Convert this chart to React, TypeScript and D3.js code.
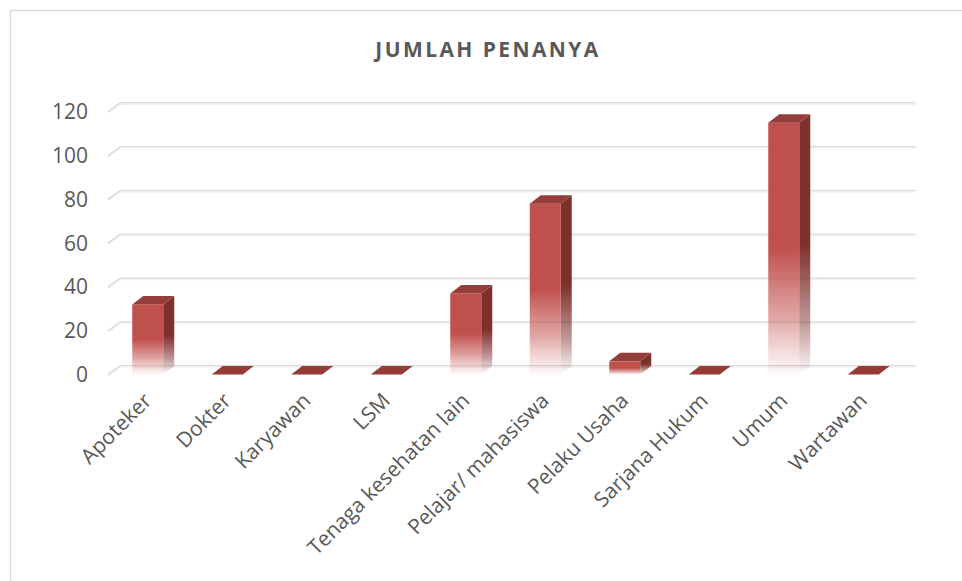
import React from "react";
import * as d3 from "d3";

const title = "JUMLAH PENANYA";
const categories = [
  "Apoteker",
  "Dokter",
  "Karyawan",
  "LSM",
  "Tenaga kesehatan lain",
  "Pelajar/ mahasiswa",
  "Pelaku Usaha",
  "Sarjana Hukum",
  "Umum",
  "Wartawan",
];
const values = [32, 0, 0, 0, 37, 78, 6, 0, 115, 0];
const yTicks = [0, 20, 40, 60, 80, 100, 120];

const W = 962;
const H = 581;
const FONT = "'Open Sans', 'Noto Sans', sans-serif";
const TEXT = "#595959";

export default function App() {
  const x = d3.scaleBand<string>().domain(categories).range([108, 903]).padding(0);
  const y = d3.scaleLinear().domain([0, 120]).range([374.5, 111.7]);
  const gdx = 12.5;
  const gdy = -9;
  const bdx = 11;
  const bdy = -8.5;
  const barW = 31;

  return (
    <svg
      width={W}
      height={H}
      style={{ position: "absolute", left: 0, top: 0, background: "#fff" }}
    >
      <defs>
        <linearGradient id="frontG" x1="0" y1="0" x2="0" y2="1">
          <stop offset="0" stopColor="#C0504D" stopOpacity={1} />
          <stop offset="0.5" stopColor="#C0504D" stopOpacity={1} />
          <stop offset="0.78" stopColor="#C8605D" stopOpacity={0.55} />
          <stop offset="1" stopColor="#D88683" stopOpacity={0.05} />
        </linearGradient>
        <linearGradient id="sideG" x1="0" y1="0" x2="0" y2="1">
          <stop offset="0" stopColor="#7E302D" stopOpacity={1} />
          <stop offset="0.5" stopColor="#7E302D" stopOpacity={1} />
          <stop offset="0.8" stopColor="#7E302D" stopOpacity={0.5} />
          <stop offset="1" stopColor="#7E302D" stopOpacity={0.02} />
        </linearGradient>
      </defs>

      <rect x={10.5} y={10.5} width={W + 20} height={H + 20} fill="#fff" stroke="#d9d9d9" strokeWidth={1.5} />

      <text
        x={488}
        y={57}
        textAnchor="middle"
        fontFamily={FONT}
        fontWeight={700}
        fontSize={21}
        letterSpacing={2.4}
        fill={TEXT}
      >
        {title}
      </text>

      {/* gridlines */}
      {yTicks.map((t) => {
        const yf = y(t);
        const yb = yf + gdy;
        return (
          <g key={t}>
            <line x1={108 + gdx} x2={903 + gdx} y1={yb + 1} y2={yb + 1} stroke="#f0f0f0" strokeWidth={2.5} />
            <line x1={108 + gdx} x2={903 + gdx} y1={yb} y2={yb} stroke="#d9d9d9" strokeWidth={1} />
            <line x1={108} y1={yf + 0.5} x2={108 + gdx} y2={yb + 0.5} stroke="#ebebeb" strokeWidth={2.5} />
            <line x1={108} y1={yf} x2={108 + gdx} y2={yb} stroke="#d0d0d0" strokeWidth={0.8} />
            <text
              x={88}
              y={yf}
              dy="0.36em"
              textAnchor="end"
              fontFamily={FONT}
              fontSize={21}
              fill={TEXT}
            >
              {t}
            </text>
          </g>
        );
      })}

      {/* bars */}
      {categories.map((c, i) => {
        const v = values[i];
        const cx = (x(c) as number) + x.bandwidth() / 2;
        const x0 = cx - barW / 2;
        const x1 = x0 + barW;
        const y0 = y(0);
        const yt = y(v);
        const topPts = [
          [x0, yt],
          [x1, yt],
          [x1 + bdx, yt + bdy],
          [x0 + bdx, yt + bdy],
        ]
          .map((p) => p.join(","))
          .join(" ");
        if (v === 0) {
          return <polygon key={c} points={topPts} fill="#943A37" />;
        }
        const sidePts = [
          [x1, yt],
          [x1 + bdx, yt + bdy],
          [x1 + bdx, y0 + bdy],
          [x1, y0],
        ]
          .map((p) => p.join(","))
          .join(" ");
        return (
          <g key={c}>
            <polygon points={sidePts} fill="url(#sideG)" />
            <rect x={x0} y={yt} width={barW} height={y0 - yt} fill="url(#frontG)" />
            <polygon points={topPts} fill="#943E3B" />
          </g>
        );
      })}

      {/* category labels */}
      {categories.map((c) => {
        const cx = (x(c) as number) + x.bandwidth() / 2;
        const ax = cx + 5;
        const ay = 402;
        return (
          <text
            key={c}
            x={ax}
            y={ay}
            transform={`rotate(-45 ${ax} ${ay})`}
            textAnchor="end"
            fontFamily={FONT}
            fontSize={21}
            fill={TEXT}
          >
            {c}
          </text>
        );
      })}
    </svg>
  );
}
